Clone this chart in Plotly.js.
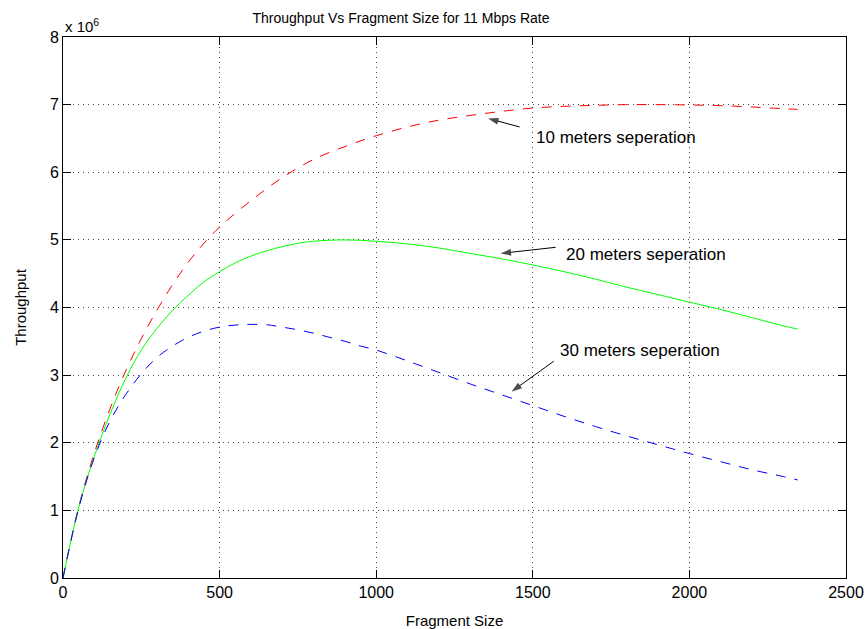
<!DOCTYPE html>
<html>
<head>
<meta charset="utf-8">
<script src="https://cdn.plot.ly/plotly-3.0.1.min.js"></script>
<style>html,body{margin:0;padding:0;background:#fff;}#chart{width:866px;height:629px;}</style>
</head>
<body>
<div id="chart"></div>
<script>
// Throughput values in units of 10^6 (as shown by the "x 10^6" axis multiplier)
const xTicks = [0, 500, 1000, 1500, 2000, 2500];
const yTicks = [0, 1, 2, 3, 4, 5, 6, 7, 8];

const fragRed = [0, 50, 100, 150, 200, 250, 300, 350, 400, 450, 500, 600, 700, 800, 900, 1000, 1100, 1200, 1300, 1400, 1500, 1600, 1700, 1800, 1900, 2000, 2100, 2200, 2300, 2346];
const thrRed  = [0, 1.05, 1.85, 2.5, 3.06, 3.54, 3.96, 4.34, 4.67, 4.95, 5.19, 5.58, 5.92, 6.19, 6.38, 6.54, 6.67, 6.77, 6.84, 6.9, 6.95, 6.975, 6.99, 7.0, 7.0, 6.995, 6.985, 6.965, 6.94, 6.93];

const fragGreen = [0, 50, 100, 150, 200, 250, 300, 350, 400, 450, 500, 550, 600, 650, 700, 750, 800, 900, 1000, 1100, 1200, 1300, 1400, 1500, 1600, 1700, 1800, 1900, 2000, 2100, 2200, 2300, 2346];
const thrGreen  = [0, 1.04, 1.8, 2.42, 2.95, 3.37, 3.69, 3.96, 4.18, 4.38, 4.53, 4.66, 4.76, 4.84, 4.9, 4.95, 4.98, 5.0, 4.98, 4.94, 4.88, 4.8, 4.72, 4.63, 4.53, 4.42, 4.3, 4.19, 4.08, 3.97, 3.85, 3.73, 3.68];

const fragBlue = [0, 50, 100, 150, 200, 250, 300, 350, 400, 450, 500, 550, 600, 650, 700, 750, 800, 850, 900, 950, 1000, 1100, 1200, 1300, 1400, 1500, 1600, 1700, 1800, 1900, 2000, 2100, 2200, 2300, 2346];
const thrBlue  = [0, 1.03, 1.78, 2.32, 2.71, 3.02, 3.26, 3.43, 3.56, 3.65, 3.71, 3.74, 3.75, 3.745, 3.71, 3.67, 3.62, 3.56, 3.5, 3.43, 3.37, 3.21, 3.04, 2.87, 2.71, 2.55, 2.39, 2.24, 2.1, 1.97, 1.84, 1.72, 1.6, 1.5, 1.45];

const labels = ['10 meters seperation', '20 meters seperation', '30 meters seperation'];
const labelX = [1505, 1600, 1580];
const labelY = [6.51, 4.79, 3.37];
const arrowTailX = [1458, 1573, 1567];
const arrowTailY = [6.67, 4.89, 3.205];
const arrowHeadX = [1357, 1397, 1432];
const arrowHeadY = [6.795, 4.80, 2.756];

const traces = [
  {x: fragRed, y: thrRed, mode: 'lines', line: {color: '#ff0000', width: 1, dash: '10px,9px', shape: 'spline'}, showlegend: false, hoverinfo: 'skip'},
  {x: fragGreen, y: thrGreen, mode: 'lines', line: {color: '#00ff00', width: 1, shape: 'spline'}, showlegend: false, hoverinfo: 'skip'},
  {x: fragBlue, y: thrBlue, mode: 'lines', line: {color: '#0000ff', width: 1, dash: '10px,9px', shape: 'spline'}, showlegend: false, hoverinfo: 'skip'}
];
for (let i = 0; i < labels.length; i++) {
  traces.push({
    x: [arrowTailX[i], arrowHeadX[i]], y: [arrowTailY[i], arrowHeadY[i]],
    mode: 'lines+markers', line: {color: '#000', width: 1},
    marker: {symbol: 'arrow', angleref: 'previous', size: [0, 11], color: '#000', line: {width: 0}},
    showlegend: false, hoverinfo: 'skip', cliponaxis: false
  });
}

const font = 'Liberation Sans, Arial, Helvetica, sans-serif';
const textStyle = {showarrow: false, xref: 'x', yref: 'y', xanchor: 'left', yanchor: 'middle', font: {family: font, size: 17, color: '#000'}};

const layout = {
  width: 866, height: 629,
  paper_bgcolor: '#fff', plot_bgcolor: '#fff',
  margin: {l: 63, r: 20, t: 37, b: 51},
  font: {family: font, color: '#000'},
  title: {text: 'Throughput Vs Fragment Size for 11 Mbps Rate', font: {family: font, size: 14, color: '#000'}, x: 0.463, xref: 'container', xanchor: 'center', y: 0.972, yanchor: 'middle'},
  xaxis: {
    range: [0, 2500], tickvals: xTicks, ticktext: xTicks.map(String),
    ticks: 'inside', ticklen: 8, tickcolor: '#000', showline: true, linecolor: '#000', linewidth: 1, mirror: 'ticks',
    showgrid: true, gridcolor: '#444', griddash: '1px,4px', gridwidth: 1, zeroline: false,
    tickfont: {family: font, size: 16, color: '#000'},
    title: {text: 'Fragment Size', font: {family: font, size: 15, color: '#000'}, standoff: 15}
  },
  yaxis: {
    range: [0, 8], tickvals: yTicks, ticktext: yTicks.map(String),
    ticks: 'inside', ticklen: 8, tickcolor: '#000', showline: true, linecolor: '#000', linewidth: 1, mirror: 'ticks',
    showgrid: true, gridcolor: '#444', griddash: '1px,4px', gridwidth: 1, zeroline: false,
    tickfont: {family: font, size: 16, color: '#000'},
    title: {text: 'Throughput', font: {family: font, size: 15, color: '#000'}, standoff: 19}
  },
  annotations: [
    {xref: 'paper', yref: 'paper', x: 0.0, y: 1.0, xanchor: 'left', yanchor: 'bottom', showarrow: false, text: 'x 10<sup>6</sup>', font: {family: font, size: 15, color: '#000'}}
  ].concat(labels.map((t, i) => Object.assign({}, textStyle, {x: labelX[i], y: labelY[i], text: t})))
};

Plotly.newPlot('chart', traces, layout, {staticPlot: true, displayModeBar: false});
</script>
</body>
</html>
